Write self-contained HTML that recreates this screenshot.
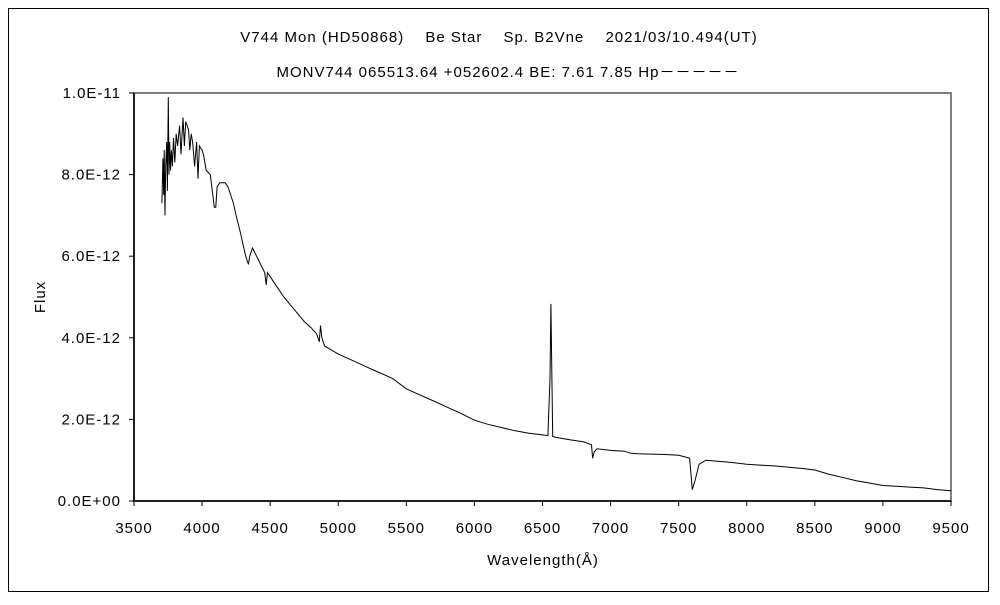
<!DOCTYPE html>
<html><head><meta charset="utf-8"><style>
html,body{margin:0;padding:0;background:#fff;}
svg text{font-family:"Liberation Sans","Noto Sans CJK JP",sans-serif;font-size:15px;letter-spacing:1px;fill:#000;}
</style></head><body>
<svg width="1000" height="600" xmlns="http://www.w3.org/2000/svg">
<rect x="8.5" y="8.5" width="980" height="583" fill="#fff" stroke="#000"/>
<text x="499" y="42" text-anchor="middle">V744 Mon (HD50868)　 Be Star　 Sp. B2Vne　 2021/03/10.494(UT)</text>
<text x="508" y="77" text-anchor="middle">MONV744 065513.64 +052602.4 BE: 7.61 7.85 Hp－－－－－</text>
<g id="plot"></g>
<text x="543" y="565" text-anchor="middle">Wavelength(Å)</text>
<text x="45" y="297" text-anchor="middle" transform="rotate(-90 45 297)">Flux</text>
</svg>
<script>
const wavelengths=[3705,3712,3718,3722,3728,3733,3740,3745,3752,3757,3762,3768,3775,3782,3790,3800,3810,3820,3835,3845,3860,3870,3880,3890,3900,3910,3920,3930,3945,3960,3970,3980,4000,4010,4030,4060,4090,4101,4110,4130,4150,4170,4190,4210,4230,4250,4280,4300,4320,4340,4350,4370,4400,4430,4460,4471,4480,4520,4560,4600,4650,4700,4750,4800,4840,4861,4870,4880,4900,5000,5100,5200,5300,5400,5500,5600,5700,5800,5900,6000,6100,6200,6300,6400,6500,6540,6555,6562,6568,6575,6600,6700,6800,6860,6868,6880,6900,7000,7100,7150,7200,7300,7400,7500,7580,7600,7620,7650,7700,7800,7900,8000,8100,8200,8300,8400,8500,8600,8700,8800,8900,9000,9100,9200,9300,9400,9500];
const fluxE12=[7.3,8.4,7.5,8.6,7.0,8.2,8.8,7.6,9.9,8.0,8.8,8.1,8.6,8.2,8.9,8.3,9.0,8.7,9.2,8.5,9.4,8.7,9.3,9.2,9.1,8.6,9.0,8.8,8.2,8.8,7.9,8.7,8.6,8.5,8.1,8.0,7.2,7.2,7.7,7.8,7.8,7.8,7.7,7.5,7.3,7.0,6.6,6.3,6.0,5.8,6.0,6.2,6.0,5.8,5.6,5.3,5.6,5.4,5.2,5.0,4.8,4.6,4.4,4.25,4.1,3.9,4.3,4.0,3.8,3.6,3.45,3.3,3.15,3.0,2.75,2.6,2.45,2.3,2.15,1.98,1.88,1.8,1.72,1.66,1.62,1.6,3.0,4.83,3.2,1.58,1.56,1.5,1.45,1.38,1.05,1.2,1.28,1.24,1.22,1.17,1.16,1.15,1.14,1.12,1.05,0.28,0.5,0.9,1.0,0.97,0.94,0.9,0.88,0.86,0.83,0.8,0.76,0.66,0.58,0.5,0.44,0.38,0.36,0.34,0.32,0.28,0.25];
const xTicks=[3500,4000,4500,5000,5500,6000,6500,7000,7500,8000,8500,9000,9500];
const yTicks=[0,2,4,6,8,10];
const yTickLabels=["0.0E+00","2.0E-12","4.0E-12","6.0E-12","8.0E-12","1.0E-11"];
const L=134,R=951,T=93,B=501;
const xs=w=>L+(w-3500)/6000*(R-L);
const ys=f=>B-f/10*(B-T);
const NS="http://www.w3.org/2000/svg";
const g=document.getElementById('plot');
function mk(t,a){const e=document.createElementNS(NS,t);for(const k in a)e.setAttribute(k,a[k]);g.appendChild(e);return e;}
const box=mk('rect',{x:L,y:T,width:R-L,height:B-T,fill:'none',stroke:'#808080','stroke-width':2});


const ax=mk('path',{d:`M${L},${T}V${B}H${R}`,fill:'none',stroke:'#000','stroke-width':1.5});


xTicks.forEach(v=>{
 const x=xs(v);
 const t=mk('line',{x1:x,x2:x,y1:B,y2:B+5,stroke:'#000'});
 
 
 const l=mk('text',{x:x,y:533,'text-anchor':'middle'});l.textContent=v;
 
 
});
yTicks.forEach((v,i)=>{
 const y=ys(v);
 const t=mk('line',{x1:L-5,x2:L,y1:y,y2:y,stroke:'#000'});
 
 
 const l=mk('text',{x:121,y:y+5,'text-anchor':'end'});l.textContent=yTickLabels[i];
 
 
});
const pts=wavelengths.map((w,i)=>xs(w).toFixed(1)+','+ys(fluxE12[i]).toFixed(1)).join(' ');
const line=mk('polyline',{points:pts,fill:'none',stroke:'#000','stroke-width':1});


</script>
</body></html>
